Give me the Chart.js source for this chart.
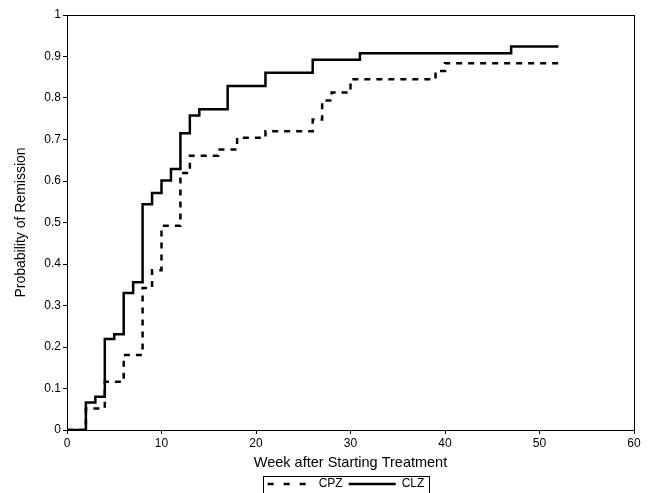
<!DOCTYPE html>
<html>
<head>
<meta charset="utf-8">
<script src="https://cdn.jsdelivr.net/npm/chart.js@4.4.1/dist/chart.umd.min.js"></script>
<style>
  html, body { margin: 0; padding: 0; background: #fff; }
  #wrap { width: 651px; height: 493px; position: relative; }
</style>
</head>
<body>
<div id="wrap"><canvas id="c" width="651" height="493"></canvas></div>
<script>
// Weeks at which each curve steps, and the probability after the step
const cpzWeeks = [0, 2, 4, 6, 8, 9, 10, 12, 13, 16, 18, 21, 26, 27, 28, 30, 39, 40, 52];
const cpzProb  = [0, 0.052, 0.116, 0.181, 0.342, 0.385, 0.492, 0.619, 0.661, 0.676, 0.704, 0.720, 0.748, 0.794, 0.813, 0.845, 0.865, 0.884, 0.884];
const clzWeeks = [0, 2, 3, 4, 5, 6, 7, 8, 9, 10, 11, 12, 13, 14, 17, 21, 26, 31, 47, 52];
const clzProb  = [0, 0.066, 0.080, 0.219, 0.231, 0.330, 0.356, 0.544, 0.571, 0.601, 0.629, 0.715, 0.758, 0.773, 0.829, 0.861, 0.892, 0.908, 0.924, 0.924];
const seriesNames = ['CPZ', 'CLZ'];
const xTitle = 'Week after Starting Treatment';
const yTitle = 'Probability of Remission';

const toPoints = (xs, ys) => xs.map((x, i) => ({ x: x, y: ys[i] }));

const FONT = 'Arial, "Liberation Sans", sans-serif';

const framePlugin = {
  id: 'frame',
  afterLayout(chart) {
    const lg = chart.legend;
    if (lg) { lg.left += 28; lg.right += 28; }
  },
  afterDraw(chart) {
    const { ctx, chartArea: a } = chart;
    ctx.save();
    ctx.strokeStyle = '#000';
    ctx.lineWidth = 1;
    ctx.setLineDash([]);
    ctx.strokeRect(Math.round(a.left) + 0.5, Math.round(a.top) + 0.5, Math.round(a.right - a.left), Math.round(a.bottom - a.top));
    // legend border
    const lg = chart.legend;
    if (lg && lg.lineWidths) {
      const pad = lg.options.labels.padding;
      const lw = lg.lineWidths[0];
      const startX = (lg.left + pad + lg.right - lw) / 2;
      const endX = startX + lw - pad;
      ctx.strokeRect(Math.round(startX - 3) + 0.5, Math.round(lg.top + 4) + 0.5, Math.round(endX - startX + 7), 40);
    }
    ctx.restore();
  }
};

new Chart(document.getElementById('c'), {
  type: 'line',
  data: {
    datasets: [
      {
        label: seriesNames[0],
        data: toPoints(cpzWeeks, cpzProb),
        borderColor: '#000',
        backgroundColor: '#000',
        borderWidth: 2.5,
        borderDash: [6, 6],
        stepped: 'before',
        pointRadius: 0,
        fill: false
      },
      {
        label: seriesNames[1],
        data: toPoints(clzWeeks, clzProb),
        borderColor: '#000',
        backgroundColor: '#000',
        borderWidth: 2.5,
        stepped: 'before',
        pointRadius: 0,
        fill: false
      }
    ]
  },
  options: {
    responsive: false,
    animation: false,
    devicePixelRatio: 1,
    layout: { padding: { left: 0, right: 17, top: 15, bottom: -7 } },
    plugins: {
      tooltip: { enabled: false },
      legend: {
        position: 'bottom',
        labels: {
          color: '#000',
          font: { family: FONT, size: 12 },
          usePointStyle: true,
          pointStyle: 'line',
          pointStyleWidth: 47,
          padding: 6,
          generateLabels(chart) {
            const items = Chart.defaults.plugins.legend.labels.generateLabels(chart);
            items.forEach((it) => {
              const ds = chart.data.datasets[it.datasetIndex];
              it.lineDash = ds.borderDash ? [6, 10] : [];
              it.lineDashOffset = ds.borderDash ? -2 : 0;
              it.lineWidth = ds.borderWidth;
              it.strokeStyle = ds.borderColor;
              it.pointStyle = 'line';
            });
            return items;
          }
        }
      }
    },
    scales: {
      x: {
        type: 'linear',
        min: 0, max: 60,
        ticks: { stepSize: 10, color: '#000', font: { family: FONT, size: 12 }, padding: 2, maxRotation: 0 },
        grid: { display: true, drawOnChartArea: false, drawTicks: true, tickLength: 4, color: '#000' },
        border: { display: true, color: '#000', width: 1 },
        title: { display: true, text: xTitle, color: '#000', font: { family: FONT, size: 14.5 }, padding: { top: 0, bottom: 0 } },
        afterFit(scale) { scale.height = 42; }
      },
      y: {
        type: 'linear',
        min: 0, max: 1,
        ticks: {
          stepSize: 0.1, color: '#000', font: { family: FONT, size: 12 }, padding: 2,
          callback: (v) => String(+v.toFixed(1))
        },
        grid: { display: true, drawOnChartArea: false, drawTicks: true, tickLength: 4, color: '#000' },
        border: { display: true, color: '#000', width: 1 },
        title: { display: true, text: yTitle, color: '#000', font: { family: FONT, size: 14 }, padding: { top: 13, bottom: 0 } },
        afterFit(scale) { scale.width = 67; }
      }
    }
  },
  plugins: [framePlugin]
});
</script>
</body>
</html>
